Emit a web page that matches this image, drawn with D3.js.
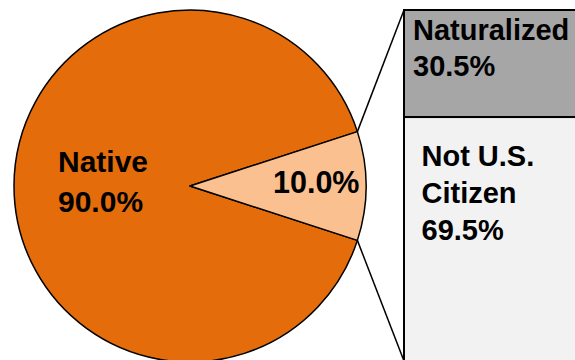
<!DOCTYPE html>
<html>
<head>
<meta charset="utf-8">
<script src="https://cdn.jsdelivr.net/npm/d3@7"></script>
<style>
  html, body { margin: 0; padding: 0; background: #fff; }
  svg { display: block; }
  text { font-family: "Liberation Sans", Arial, sans-serif; font-weight: bold; fill: #000; }
</style>
</head>
<body>
<svg id="chart" width="575" height="360"></svg>
<script>
// Data
const pieCategories = ["Native", "Foreign-born"];
const pieValues = [90.0, 10.0];
const pieLabelLines = [["Native", "90.0%"], ["10.0%"]];
const barCategories = ["Naturalized", "Not U.S. Citizen"];
const barValues = [30.5, 69.5];
const barLabelLines = [["Naturalized", "30.5%"], ["Not U.S.", "Citizen", "69.5%"]];

const pieColors = ["#e46c0a", "#fac090"];
const barColors = ["#a6a6a6", "#f2f2f2"];

const svg = d3.select("#chart");
const cx = 190, cy = 186, r = 176;

// Pie: small slice centered at 3 o'clock
const smallAngle = 2 * Math.PI * pieValues[1] / d3.sum(pieValues);
const start = Math.PI / 2 + smallAngle / 2; // Native begins just below the small slice
const pie = d3.pie().sort(null).value(d => d)
  .startAngle(start).endAngle(start + 2 * Math.PI);
const arcs = pie(pieValues);
const arc = d3.arc().innerRadius(0).outerRadius(r);

const g = svg.append("g").attr("transform", `translate(${cx},${cy})`);
g.selectAll("path").data(arcs).enter().append("path")
  .attr("d", arc)
  .attr("fill", (d, i) => pieColors[i])
  .attr("stroke", "#000")
  .attr("stroke-width", 1.5)
  .attr("stroke-linejoin", "round");

// Bar of pie
const barX = 404, barTop = 10, barBottom = 361, barW = 200;
const y = d3.scaleLinear().domain([0, d3.sum(barValues)]).range([barTop, barBottom]);
let cum = 0;
const barSegs = barValues.map((v, i) => { const s = { i, v, y0: cum, y1: cum + v }; cum += v; return s; });
svg.selectAll("rect.seg").data(barSegs).enter().append("rect")
  .attr("class", "seg")
  .attr("x", barX)
  .attr("y", d => y(d.y0))
  .attr("width", barW)
  .attr("height", d => y(d.y1) - y(d.y0))
  .attr("fill", d => barColors[d.i])
  .attr("stroke", "#000")
  .attr("stroke-width", 2);

// Connector lines from small slice corners to bar
const smallArc = arcs[1];
const cornerTop = [cx + r * Math.sin(smallArc.startAngle), cy - r * Math.cos(smallArc.startAngle)];
const cornerBot = [cx + r * Math.sin(smallArc.endAngle), cy - r * Math.cos(smallArc.endAngle)];
svg.append("line").attr("x1", cornerTop[0]).attr("y1", cornerTop[1])
  .attr("x2", barX).attr("y2", y(0)).attr("stroke", "#000").attr("stroke-width", 1.5);
svg.append("line").attr("x1", cornerBot[0]).attr("y1", cornerBot[1])
  .attr("x2", barX).attr("y2", y(d3.sum(barValues))).attr("stroke", "#000").attr("stroke-width", 1.5);

// Labels
function multiline(x, yBase, lines, lh, fs) {
  const t = svg.append("text").attr("x", x).attr("y", yBase).style("font-size", fs + "px");
  lines.forEach((l, k) => t.append("tspan").attr("x", x).attr("y", yBase + k * lh).text(l));
}
multiline(58, 172, pieLabelLines[0], 40, 30);
multiline(273, 193, pieLabelLines[1], 40, 30.5);
multiline(413, 39.5, barLabelLines[0], 36.5, 29);
multiline(421.5, 166, barLabelLines[1], 37, 29);
</script>
</body>
</html>
